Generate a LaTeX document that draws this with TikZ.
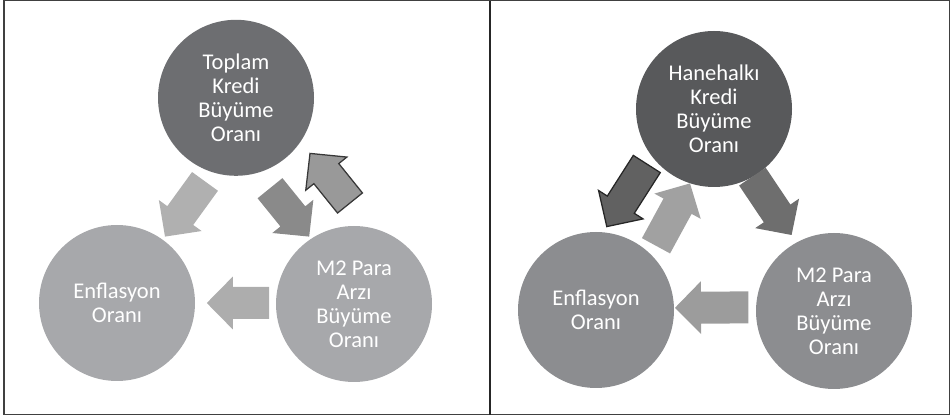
\documentclass[tikz,border=0pt]{standalone}
\usepackage{fontspec}
\setmainfont{Carlito}
\usepackage{xcolor}
\usetikzlibrary{calc}

\definecolor{koyugri}{HTML}{6D6E71}
\definecolor{acikgri}{HTML}{A7A8AB}
\definecolor{enkoyu}{HTML}{58595B}
\definecolor{ortagri}{HTML}{8C8D90}

\newcommand{\blokok}[3][]{%
	\coordinate (bo-c) at ($(#3)!0.65cm!(#2)$);
	\draw[#1] ($(#2)!0.4cm!90:(#3)$) -- ($(bo-c)!0.4cm!90:(#3)$)
		-- ($(bo-c)!0.66cm!90:(#3)$) -- (#3)
		-- ($(bo-c)!0.66cm!-90:(#3)$) -- ($(bo-c)!0.4cm!-90:(#3)$)
		-- ($(#2)!0.4cm!-90:(#3)$) -- cycle;}

\begin{document}
\begin{tikzpicture}[daire/.style={circle, minimum size=3.9cm, inner sep=0pt, align=center, text=white, font=\fontsize{16}{17}\selectfont}]
			\useasboundingbox (0,0) rectangle (23.775,10.475);
			
			%% Cerceve
			\draw[black!75, line width=0.8pt] (0.1,0.11) rectangle (23.74,10.46);
			\draw[black!85, line width=1pt] (12.25,0.11)--(12.25,10.46);
			
			%% Sol: daireler
			\node[daire, fill=koyugri] (toplam) at (5.9,8.03) {Toplam\\Kredi\\Büyüme\\Oranı};
			\node[daire, fill=acikgri] (enfsol) at (2.925,2.9) {Enflasyon\\Oranı};
			\node[daire, fill=acikgri] (m2sol) at (8.85,2.875) {M2 Para\\Arzı\\Büyüme\\Oranı};
			
			%% Sol: oklar
			\coordinate (a1s) at (5.125,5.94);
			\coordinate (a1e) at (4.125,4.56);
			\coordinate (a2s) at (6.75,5.77);
			\coordinate (a2e) at (7.73,4.56);
			\coordinate (a3s) at (8.75,5.4);
			\coordinate (a3e) at (7.75,6.64);
			\coordinate (a4s) at (6.725,2.9);
			\coordinate (a4e) at (5.17,2.9);
			\blokok[fill=black!31, draw=none]{a1s}{a1e}
			\blokok[fill=black!46, draw=none]{a2s}{a2e}
			\blokok[fill=black!40, draw=black!78, line width=0.9pt]{a3s}{a3e}
			\blokok[fill=black!32, draw=none]{a4s}{a4e}
			
			%% Sag: daireler
			\node[daire, fill=enkoyu] (hane) at (17.85,7.75) {Hanehalkı\\Kredi\\Büyüme\\Oranı};
			\node[daire, fill=ortagri] (enfsag) at (14.9,2.725) {Enflasyon\\Oranı};
			\node[daire, fill=ortagri] (m2sag) at (20.85,2.7) {M2 Para\\Arzı\\Büyüme\\Oranı};
			
			%% Sag: oklar
			\coordinate (b1s) at (16.17,6.375);
			\coordinate (b1e) at (15.17,4.81);
			\coordinate (b2s) at (16.4,4.33);
			\coordinate (b2e) at (17.25,5.89);
			\coordinate (b3s) at (18.81,6.06);
			\coordinate (b3e) at (19.79,4.6);
			\coordinate (b4s) at (18.71,2.79);
			\coordinate (b4e) at (16.875,2.78);
			\blokok[fill=black!62, draw=black!85, line width=0.9pt]{b1s}{b1e}
			\blokok[fill=black!37, draw=none]{b2s}{b2e}
			\blokok[fill=black!57, draw=none]{b3s}{b3e}
			\blokok[fill=black!39, draw=none]{b4s}{b4e}
\end{tikzpicture}
\end{document}
